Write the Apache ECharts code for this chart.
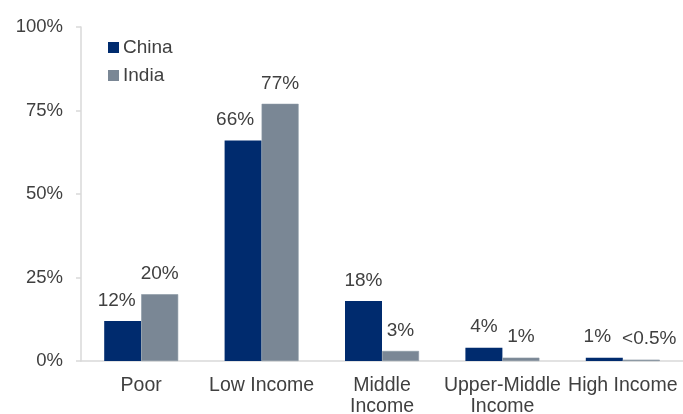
<!DOCTYPE html>
<html>
<head>
<meta charset="utf-8">
<script src="https://cdn.jsdelivr.net/npm/echarts@6/dist/echarts.min.js"></script>
<style>
  html, body { margin: 0; padding: 0; background: #fff; }
  #chart { width: 683px; height: 414px; }
</style>
</head>
<body>
<div id="chart"></div>
<script>
// Share of population by income group, China vs India
const categories = ['Poor', 'Low Income', 'Middle\nIncome', 'Upper-Middle\nIncome', 'High Income'];
const chinaValues = [12, 66, 18, 4, 1];
const indiaValues = [20, 77, 3, 1, 0.4];
const chinaLabels = ['12%', '66%', '18%', '4%', '1%'];
const indiaLabels = ['20%', '77%', '3%', '1%', '<0.5%'];
const yTicks = [0, 25, 50, 75, 100];

// small horizontal nudges so neighbouring labels do not collide
const chinaLabelShift = [-6, -8, 0, 0, -7];
const indiaLabelShift = [0, 0, 0, 0, 8];

const textColor = '#404040';
const font = 'Liberation Sans, Arial, sans-serif';

function buildData(values, labels, shifts) {
  return values.map((v, i) => ({
    value: v,
    label: { formatter: labels[i], offset: [shifts[i], 0] }
  }));
}

const barLabel = {
  show: true, position: 'top', distance: 11,
  color: textColor, fontSize: 19, fontFamily: font
};

const chart = echarts.init(document.getElementById('chart'), null, { renderer: 'canvas' });
chart.setOption({
  animation: false,
  textStyle: { fontFamily: font },
  legend: {
    orient: 'vertical',
    left: 103,
    top: 33,
    itemWidth: 11,
    itemHeight: 11,
    itemGap: 9,
    icon: 'rect',
    itemStyle: { borderWidth: 0 },
    textStyle: { fontSize: 19, color: textColor, fontFamily: font, padding: [0, 0, 0, -1] },
    data: ['China', 'India']
  },
  grid: { left: 81, right: 0, top: 27, bottom: 53, containLabel: false, outerBoundsMode: 'none' },
  xAxis: {
    type: 'category',
    data: categories,
    axisLine: { lineStyle: { color: '#d9d9d9', width: 1.5 } },
    axisTick: { show: false },
    axisLabel: {
      color: textColor, fontSize: 19.5, fontFamily: font,
      margin: 14, lineHeight: 21, interval: 0
    }
  },
  yAxis: {
    type: 'value',
    min: 0,
    max: 100,
    interval: 25,
    splitLine: { show: false },
    axisLine: { show: true, lineStyle: { color: '#d9d9d9', width: 1.5 } },
    axisTick: { show: true, length: 5, lineStyle: { color: '#d9d9d9', width: 1.5 } },
    axisLabel: {
      color: textColor, fontSize: 18.5, fontFamily: font, margin: 18,
      formatter: v => yTicks.includes(v) ? v + '%' : ''
    }
  },
  series: [
    {
      name: 'China',
      type: 'bar',
      barWidth: 37,
      barGap: '0%',
      itemStyle: { color: '#002b6e' },
      label: barLabel,
      data: buildData(chinaValues, chinaLabels, chinaLabelShift)
    },
    {
      name: 'India',
      type: 'bar',
      barWidth: 37,
      barGap: '0%',
      itemStyle: { color: '#7a8795', borderColor: '#8c98a5', borderWidth: 0.6 },
      label: barLabel,
      data: buildData(indiaValues, indiaLabels, indiaLabelShift)
    }
  ]
});
</script>
</body>
</html>
